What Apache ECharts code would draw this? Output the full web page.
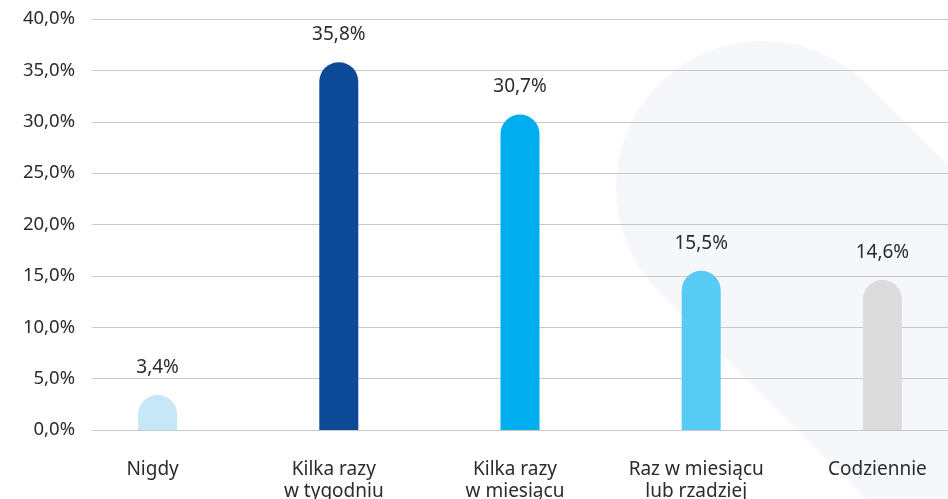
<!DOCTYPE html>
<html>
<head>
<meta charset="utf-8">
<script src="https://cdn.jsdelivr.net/npm/echarts@6/dist/echarts.min.js"></script>
<style>html,body{margin:0;padding:0;background:#fff;overflow:hidden;width:948px;height:499px}#c{width:973px;height:499px}</style>
</head>
<body>
<div id="c"></div>
<script>
var categories = ['Nigdy', 'Kilka razy\nw tygodniu', 'Kilka razy\nw miesiącu', 'Raz w miesiącu\nlub rzadziej', 'Codziennie'];
var values = [3.4, 35.8, 30.7, 15.5, 14.6];
var barColors = ['#c6e7f8', '#0c4a98', '#00aeef', '#58cbf5', '#dcdcdd'];
var yMin = 0, yMax = 40, yStep = 5;

var FONT = '"Noto Sans", sans-serif';
function fmt(v) { return v.toFixed(1).replace('.', ',') + '%'; }

var chart = echarts.init(document.getElementById('c'), null, {renderer: 'canvas'});
chart.setOption({
  backgroundColor: '#ffffff',
  animation: false,
  graphic: [{
    type: 'rect',
    x: 763, y: 188,
    rotation: -Math.PI / 4,
    shape: {x: -147, y: -147, width: 900, height: 294, r: 147},
    style: {fill: '#f5f7fb'},
    z: -10, silent: true
  }],
  grid: [
    {left: 67, right: 0, top: 19, bottom: 69, outerBoundsMode: 'none', containLabel: false},
    {left: 92, right: 25, top: 19, bottom: 69, outerBoundsMode: 'none', containLabel: false}
  ],
  xAxis: [
    {type: 'category', gridIndex: 0, data: categories,
     axisLine: {show: false}, axisTick: {show: false},
     axisLabel: {margin: 29, color: '#2b2b2b', fontFamily: FONT, fontSize: 19, lineHeight: 22, interval: 0,
                 padding: [0, 10, 0, 0]}},
    {type: 'category', gridIndex: 1, data: categories, show: false}
  ],
  yAxis: [
    {type: 'value', gridIndex: 0, min: yMin, max: yMax, interval: yStep, show: false, splitLine: {show: false}},
    {type: 'value', gridIndex: 1, min: yMin, max: yMax, interval: yStep,
     axisLine: {show: false}, axisTick: {show: false},
     splitLine: {lineStyle: {color: '#c8c8c8', width: 1}},
     axisLabel: {margin: 17, color: '#2b2b2b', fontFamily: FONT, fontSize: 18.5, formatter: function (v) { return fmt(v); }}}
  ],
  series: [{
    type: 'bar',
    xAxisIndex: 0, yAxisIndex: 0,
    barWidth: 39,
    data: values.map(function (v, i) { return {value: v, itemStyle: {color: barColors[i], borderRadius: [19.5, 19.5, 0, 0]}}; }),
    label: {show: true, position: 'top', distance: 18, color: '#2b2b2b', fontFamily: FONT, fontSize: 19,
            formatter: function (p) { return fmt(p.value); }},
    z: 5
  }]
});
</script>
</body>
</html>
